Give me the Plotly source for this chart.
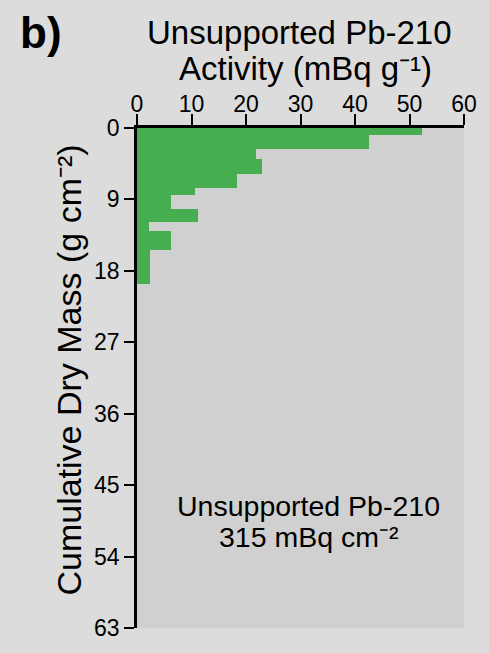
import plotly.graph_objects as go

# Data: depth intervals (cumulative dry mass, g cm-2) and unsupported Pb-210 activity (mBq g-1)
depth_top = [0.0, 0.9, 2.6, 3.9, 5.8, 7.5, 8.4, 10.15, 11.9, 13.0, 15.4]
depth_bottom = [0.9, 2.6, 3.9, 5.8, 7.5, 8.4, 10.15, 11.9, 13.0, 15.4, 19.7]
activity = [52.3, 42.5, 21.9, 22.9, 18.3, 10.6, 6.25, 11.2, 2.25, 6.25, 2.4]

x_ticks = [0, 10, 20, 30, 40, 50, 60]
y_ticks = [0, 9, 18, 27, 36, 45, 54, 63]

mid = [(a + b) / 2 for a, b in zip(depth_top, depth_bottom)]
thick = [b - a for a, b in zip(depth_top, depth_bottom)]

FONT = "Liberation Sans, Arial, Helvetica, sans-serif"
W, H = 489, 653
L, R, T, B = 137, 16, 128, 14
PW, PH = W - L - R, H - T - B


def px(x):
    return (x - L) / PW


def py(y):
    return (H - B - y) / PH


fig = go.Figure()
fig.add_trace(go.Bar(
    x=activity, y=mid, width=thick, orientation="h",
    marker=dict(color="#46ae50", line=dict(width=0)),
    hoverinfo="x+y",
))

fig.update_layout(
    width=W, height=H,
    margin=dict(l=L, r=R, t=T, b=B, pad=0),
    paper_bgcolor="#dcdcdc",
    plot_bgcolor="#d0d0d0",
    showlegend=False,
    font=dict(family=FONT, color="black"),
    bargap=0,
)
fig.update_xaxes(
    side="top", range=[0, 60], tickvals=x_ticks, ticktext=[str(v) for v in x_ticks],
    ticks="outside", ticklen=11, tickwidth=2, tickcolor="black",
    ticklabelstandoff=-7,
    showline=True, linecolor="black", linewidth=2.5,
    showgrid=False, zeroline=False, tickfont=dict(size=23, family=FONT),
)
fig.update_yaxes(
    range=[63, 0], tickvals=y_ticks, ticktext=[str(v) for v in y_ticks],
    ticks="outside", ticklen=10, tickwidth=2, tickcolor="black",
    showline=True, linecolor="black", linewidth=2.5,
    showgrid=False, zeroline=False, tickfont=dict(size=23, family=FONT),
)

ann = [
    dict(text="<b>b)</b>", x=px(15), y=py(30), xanchor="left", yanchor="middle", font=dict(size=44)),
    dict(text="Unsupported Pb-210", x=px(304), y=py(30), xanchor="center", yanchor="middle", font=dict(size=33)),
    dict(text="Activity (mBq g\u207b\u00b9)", x=px(310), y=py(67), xanchor="center", yanchor="middle", font=dict(size=33)),
    dict(text="Cumulative Dry Mass (g cm\u207b\u00b2)", x=px(67), y=py(375), xanchor="center", yanchor="middle",
         textangle=-90, font=dict(size=34)),
    dict(text="Unsupported Pb-210", x=px(313), y=py(514), xanchor="center", yanchor="middle", font=dict(size=28.5)),
    dict(text="315 mBq cm\u207b\u00b2", x=px(313), y=py(546), xanchor="center", yanchor="middle", font=dict(size=28.5)),
]
for a in ann:
    a.update(xref="paper", yref="paper", showarrow=False)
    a["font"].update(family=FONT, color="black")
fig.update_layout(annotations=ann)

fig.write_html("out.html")
